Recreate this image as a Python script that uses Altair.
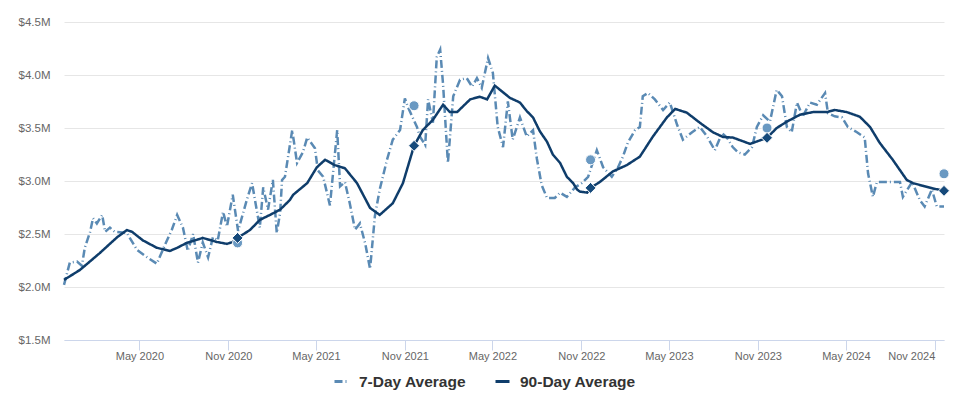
import altair as alt
import pandas as pd

series_names = ["7-Day Average", "90-Day Average"]

seven_dates = [
    "2019-11-27", "2019-12-09", "2019-12-24", "2020-01-03", "2020-01-09", "2020-01-20", "2020-01-26",
    "2020-02-03", "2020-02-14", "2020-02-20", "2020-03-01", "2020-03-11", "2020-04-05", "2020-04-26",
    "2020-05-17", "2020-06-06", "2020-06-23", "2020-07-07", "2020-07-18", "2020-07-30", "2020-08-09",
    "2020-08-20", "2020-08-30", "2020-09-09", "2020-09-20", "2020-09-30", "2020-10-10", "2020-10-21",
    "2020-10-29", "2020-11-10", "2020-11-21", "2020-12-09", "2020-12-20", "2020-12-26", "2021-01-05",
    "2021-01-12", "2021-01-22", "2021-02-01", "2021-02-09", "2021-02-16", "2021-02-20", "2021-02-26",
    "2021-03-13", "2021-03-23", "2021-04-04", "2021-04-13", "2021-04-29", "2021-05-05", "2021-05-16",
    "2021-05-30", "2021-06-14", "2021-06-20", "2021-06-30", "2021-07-10", "2021-07-21", "2021-07-31",
    "2021-08-11", "2021-08-21", "2021-08-31", "2021-09-10", "2021-09-25", "2021-10-07", "2021-10-22",
    "2021-11-01", "2021-11-07", "2021-11-26", "2021-12-02", "2021-12-13", "2021-12-19", "2021-12-29",
    "2022-01-06", "2022-01-13", "2022-01-19", "2022-01-29", "2022-02-09", "2022-02-23", "2022-03-09",
    "2022-03-20", "2022-03-30", "2022-04-09", "2022-04-22", "2022-05-02", "2022-05-12", "2022-05-23",
    "2022-06-02", "2022-06-12", "2022-06-27", "2022-07-11", "2022-07-24", "2022-08-01", "2022-08-11",
    "2022-08-22", "2022-09-07", "2022-09-18", "2022-10-02", "2022-10-19", "2022-11-02", "2022-11-15",
    "2022-12-03", "2022-12-16", "2023-01-03", "2023-01-16", "2023-01-26", "2023-02-05", "2023-02-20",
    "2023-03-02", "2023-03-08", "2023-03-19", "2023-04-02", "2023-04-19", "2023-05-03", "2023-05-18",
    "2023-05-30", "2023-06-18", "2023-07-04", "2023-07-19", "2023-08-04", "2023-08-19", "2023-08-29",
    "2023-09-10", "2023-09-21", "2023-10-05", "2023-10-20", "2023-10-30", "2023-11-12", "2023-11-26",
    "2023-12-10", "2023-12-21", "2023-12-31", "2024-01-10", "2024-01-21", "2024-02-02", "2024-02-17",
    "2024-03-02", "2024-03-19", "2024-03-25", "2024-04-08", "2024-04-23", "2024-05-05", "2024-05-24",
    "2024-06-09", "2024-06-16", "2024-06-26", "2024-07-04", "2024-07-25", "2024-08-21", "2024-08-27",
    "2024-09-15", "2024-10-01", "2024-10-11", "2024-10-26", "2024-11-05", "2024-11-20",
]
seven_vals = [
    2.02, 2.23, 2.24, 2.20, 2.37, 2.52, 2.65,
    2.60, 2.68, 2.52, 2.56, 2.52, 2.51, 2.35,
    2.28, 2.22, 2.40, 2.54, 2.68, 2.56, 2.34,
    2.50, 2.23, 2.42, 2.28, 2.47, 2.44, 2.71,
    2.57, 2.87, 2.53, 2.82, 2.98, 2.82, 2.56,
    2.94, 2.73, 3.01, 2.51, 2.70, 3.01, 3.04,
    3.48, 3.17, 3.27, 3.41, 3.31, 3.10, 3.04,
    2.77, 3.48, 2.95, 2.99, 2.79, 2.54, 2.60,
    2.41, 2.17, 2.67, 2.92, 3.20, 3.39, 3.48,
    3.78, 3.70, 3.51, 3.42, 3.34, 3.77, 3.55,
    4.17, 4.24, 3.91, 3.17, 3.80, 3.955, 3.97,
    3.89, 3.97, 3.88, 4.16, 4.02, 3.51, 3.32,
    3.75, 3.39, 3.60, 3.42, 3.48, 3.21, 2.96,
    2.84, 2.84, 2.89, 2.85, 2.94, 2.98, 3.04,
    3.29, 3.13, 3.04, 3.13, 3.23, 3.36, 3.48,
    3.51, 3.80, 3.83, 3.77, 3.67, 3.74, 3.53,
    3.39, 3.46, 3.51, 3.42, 3.29, 3.45, 3.41,
    3.32, 3.27, 3.25, 3.32, 3.51, 3.62, 3.56,
    3.86, 3.80, 3.51, 3.46, 3.74, 3.61, 3.74,
    3.72, 3.83, 3.64, 3.61, 3.60, 3.51, 3.46,
    3.41, 3.07, 2.85, 2.99, 2.99, 2.99, 2.85,
    2.99, 2.82, 2.76, 2.92, 2.76, 2.76,
]

ninety_dates = [
    "2019-11-27", "2019-12-30", "2020-02-09", "2020-03-16", "2020-04-05", "2020-04-16", "2020-05-08",
    "2020-06-06", "2020-07-03", "2020-07-18", "2020-08-07", "2020-09-09", "2020-10-08", "2020-10-29",
    "2020-11-10", "2020-11-20", "2020-12-16", "2021-01-05", "2021-01-26", "2021-02-16", "2021-03-08",
    "2021-03-15", "2021-04-13", "2021-05-03", "2021-05-20", "2021-06-09", "2021-06-30", "2021-07-25",
    "2021-08-21", "2021-09-10", "2021-10-07", "2021-10-28", "2021-11-20", "2021-12-08", "2021-12-29",
    "2022-01-19", "2022-02-02", "2022-02-17", "2022-03-16", "2022-04-05", "2022-04-20", "2022-05-06",
    "2022-06-06", "2022-06-27", "2022-07-11", "2022-07-24", "2022-08-07", "2022-08-22", "2022-09-03",
    "2022-09-18", "2022-10-02", "2022-10-15", "2022-10-23", "2022-10-29", "2022-11-13", "2022-11-20",
    "2022-12-09", "2023-01-05", "2023-02-03", "2023-03-02", "2023-03-29", "2023-04-27", "2023-05-14",
    "2023-06-07", "2023-07-04", "2023-07-31", "2023-08-21", "2023-09-10", "2023-10-16", "2023-11-20",
    "2023-12-10", "2023-12-31", "2024-01-27", "2024-02-23", "2024-03-23", "2024-04-08", "2024-05-03",
    "2024-05-30", "2024-06-20", "2024-07-10", "2024-08-06", "2024-09-04", "2024-09-17", "2024-10-07",
    "2024-10-28", "2024-11-20",
]
ninety_vals = [
    2.067, 2.161, 2.32, 2.47, 2.537, 2.52, 2.44,
    2.37, 2.34, 2.37, 2.416, 2.463, 2.425, 2.407,
    2.425, 2.463, 2.539, 2.633, 2.68, 2.73, 2.82,
    2.87, 2.98, 3.13, 3.20, 3.15, 3.12, 2.98,
    2.746, 2.68, 2.79, 2.98, 3.332, 3.48, 3.577,
    3.72, 3.65, 3.65, 3.77, 3.795, 3.77, 3.90,
    3.785, 3.74, 3.66, 3.60, 3.47, 3.37, 3.25,
    3.17, 3.04, 2.98, 2.92, 2.90, 2.89, 2.935,
    2.99, 3.09, 3.15, 3.23, 3.42, 3.60, 3.68,
    3.645, 3.55, 3.46, 3.415, 3.41, 3.35, 3.407,
    3.50, 3.56, 3.625, 3.65, 3.65, 3.67, 3.65,
    3.606, 3.51, 3.36, 3.20, 3.01, 2.98, 2.955,
    2.93, 2.907,
]

marker_dates = ["2020-11-20", "2021-11-20", "2022-11-20", "2023-11-20", "2024-11-20"]
marker_7day = [2.416, 3.71, 3.20, 3.50, 3.068]
marker_90day = [2.463, 3.332, 2.935, 3.407, 2.907]

y_ticks = [1.5, 2.0, 2.5, 3.0, 3.5, 4.0, 4.5]
x_tick_dates = ["2020-05-01", "2020-11-01", "2021-05-01", "2021-11-01", "2022-05-01",
                "2022-11-01", "2023-05-01", "2023-11-01", "2024-05-01", "2024-11-01"]
x_domain = ["2019-11-27", "2024-11-20"]

C7 = "#5a8ab4"
C90 = "#0f3d6b"
C_CIRCLE = "#6a99c2"
C_DIAMOND = "#164a7b"
FONT = "Liberation Sans"


def dt(s):
    y, m, d = (int(p) for p in s.split("-"))
    return alt.DateTime(year=y, month=m, date=d, utc=True)


df = pd.DataFrame({
    "date": seven_dates + ninety_dates,
    "value": seven_vals + ninety_vals,
    "series": [series_names[0]] * len(seven_dates) + [series_names[1]] * len(ninety_dates),
})
mk = pd.DataFrame({"date": marker_dates, "v7": marker_7day, "v90": marker_90day})

xscale = alt.Scale(type="utc", domain=[dt(x_domain[0]), dt(x_domain[1])], nice=False)
yscale = alt.Scale(domain=[1.5, 4.5], nice=False, zero=False)

x_enc = alt.X(
    "date:T", scale=xscale, title=None,
    axis=alt.Axis(values=[dt(s) for s in x_tick_dates],
                  labelExpr="utcFormat(datum.value, '%b %Y')",
                  grid=False, tickSize=10, tickColor="#ccd6eb", domainColor="#ccd6eb",
                  labelColor="#666666", labelFontSize=11, labelFont=FONT, labelPadding=0,
                  labelFlush=12, labelOverlap=False),
)
y_axis = alt.Axis(values=y_ticks, labelExpr="'$' + format(datum.value, '.1f') + 'M'",
                  grid=True, gridColor="#e6e6e6", domain=False, ticks=False,
                  labelColor="#666666", labelFontSize=11.5, labelFont=FONT, labelPadding=14)

legend = alt.Legend(title=None, orient="none", direction="horizontal", legendX=269, legendY=351,
                    symbolType="stroke", symbolSize=196, symbolStrokeWidth=3,
                    labelFont=FONT, labelFontSize=15.5, labelFontWeight="bold",
                    labelColor="#333333", labelOffset=9, columnPadding=22)

lines = alt.Chart(df).mark_line(strokeWidth=2.5, interpolate="linear").encode(
    x=x_enc,
    y=alt.Y("value:Q", scale=yscale, axis=y_axis, title=None),
    color=alt.Color("series:N", scale=alt.Scale(domain=series_names, range=[C7, C90]), legend=legend),
    strokeDash=alt.StrokeDash("series:N",
                              scale=alt.Scale(domain=series_names, range=[[8, 3, 1, 3], [1, 0]]),
                              legend=legend),
)

circles = alt.Chart(mk).mark_point(shape="circle", filled=True, size=100, fill=C_CIRCLE,
                                   stroke="white", strokeWidth=1, opacity=1).encode(
    x=alt.X("date:T", scale=xscale), y=alt.Y("v7:Q", scale=yscale))

diamonds = alt.Chart(mk).mark_point(shape="diamond", filled=True, size=121, fill=C_DIAMOND,
                                    stroke="white", strokeWidth=1, opacity=1).encode(
    x=alt.X("date:T", scale=xscale), y=alt.Y("v90:Q", scale=yscale))

chart = alt.layer(lines, circles, diamonds).properties(
    width=880, height=318,
    autosize=alt.AutoSizeParams(type="none"),
    padding={"left": 56, "top": 14, "right": 14, "bottom": 50},
    background="white",
).configure_view(stroke=None, strokeWidth=0)

chart.save("out.html", embed_options={"renderer": "svg", "actions": False})
